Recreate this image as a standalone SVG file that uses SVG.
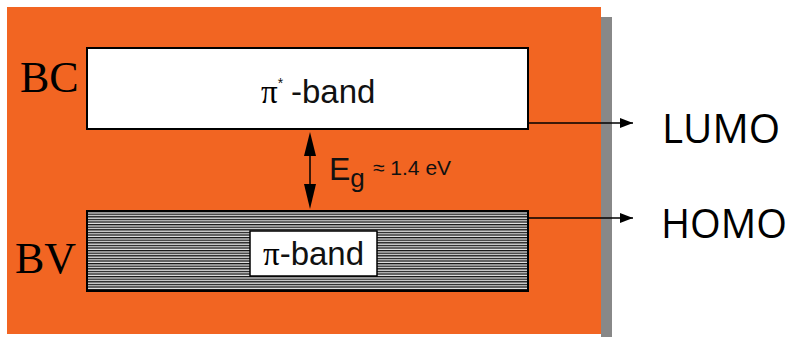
<svg xmlns="http://www.w3.org/2000/svg" width="794" height="337" viewBox="0 0 794 337">
<style>
.serif{font-family:"Liberation Serif","Times New Roman",serif;fill:#000}
.sans{font-family:"Liberation Sans",Arial,sans-serif;fill:#111}
.big{font-family:"Open Sans","Noto Sans",sans-serif;fill:#000;font-size:40px}
.conn{stroke:#000;stroke-width:1.3;fill:none}
</style>
<defs>
<pattern id="hatch" width="8" height="2.6" patternUnits="userSpaceOnUse" y="211">
<rect width="8" height="2.6" fill="#e8e8e8"/>
<rect width="8" height="1.3" fill="#111"/>
</pattern>
<marker id="ah" markerWidth="14" markerHeight="10" refX="13" refY="5" orient="auto" markerUnits="userSpaceOnUse">
<path d="M0,0 L13,5 L0,10 Z" fill="#000"/>
</marker>
</defs>
<rect x="0" y="0" width="794" height="337" fill="#fff"/>
<g id="panel">
<rect x="601" y="17" width="11" height="320" fill="#888"/>
<rect x="7" y="7" width="594" height="327" fill="#F26522"/>
</g>
<g id="bc">
<rect x="87" y="48" width="441" height="81" fill="#fff" stroke="#000" stroke-width="2"/>
<text x="20" y="92" class="serif" font-size="44">BC</text>
<text x="261" y="103" font-size="33"><tspan class="serif">π</tspan><tspan class="sans" font-size="14" dy="-15">*</tspan><tspan class="sans" dy="15" x="291">-band</tspan></text>
</g>
<g id="bv">
<rect x="87" y="211" width="441" height="80" fill="url(#hatch)" stroke="#000" stroke-width="2"/>
<text x="15" y="273" class="serif" font-size="44">BV</text>
<rect x="250" y="231" width="127" height="45" fill="#fff" stroke="#000" stroke-width="1.5"/>
<text x="263" y="265" font-size="33"><tspan class="serif">π</tspan><tspan class="sans">-band</tspan></text>
</g>
<g id="gap">
<line x1="310" y1="145" x2="310" y2="196" stroke="#000" stroke-width="1.5"/>
<path d="M310,132 L316,156 L304,156 Z" fill="#000"/>
<path d="M310,209 L316,184 L304,184 Z" fill="#000"/>
<text x="329" y="180" class="sans" font-size="32" fill="#222">E<tspan font-size="26" dy="7">g</tspan></text>
<text x="373" y="175" class="sans" font-size="21" fill="#222">≈ 1.4 eV</text>
</g>
<g id="lumo">
<text x="662" y="143" class="big" textLength="118" lengthAdjust="spacingAndGlyphs">LUMO</text>
</g>
<g id="homo">
<text x="661" y="238" class="big" textLength="126" lengthAdjust="spacingAndGlyphs">HOMO</text>
</g>
<g id="connectors">
<line x1="528" y1="123" x2="633" y2="123" class="conn" marker-end="url(#ah)"/>
<line x1="528" y1="218" x2="633" y2="218" class="conn" marker-end="url(#ah)"/>
</g>
</svg>
